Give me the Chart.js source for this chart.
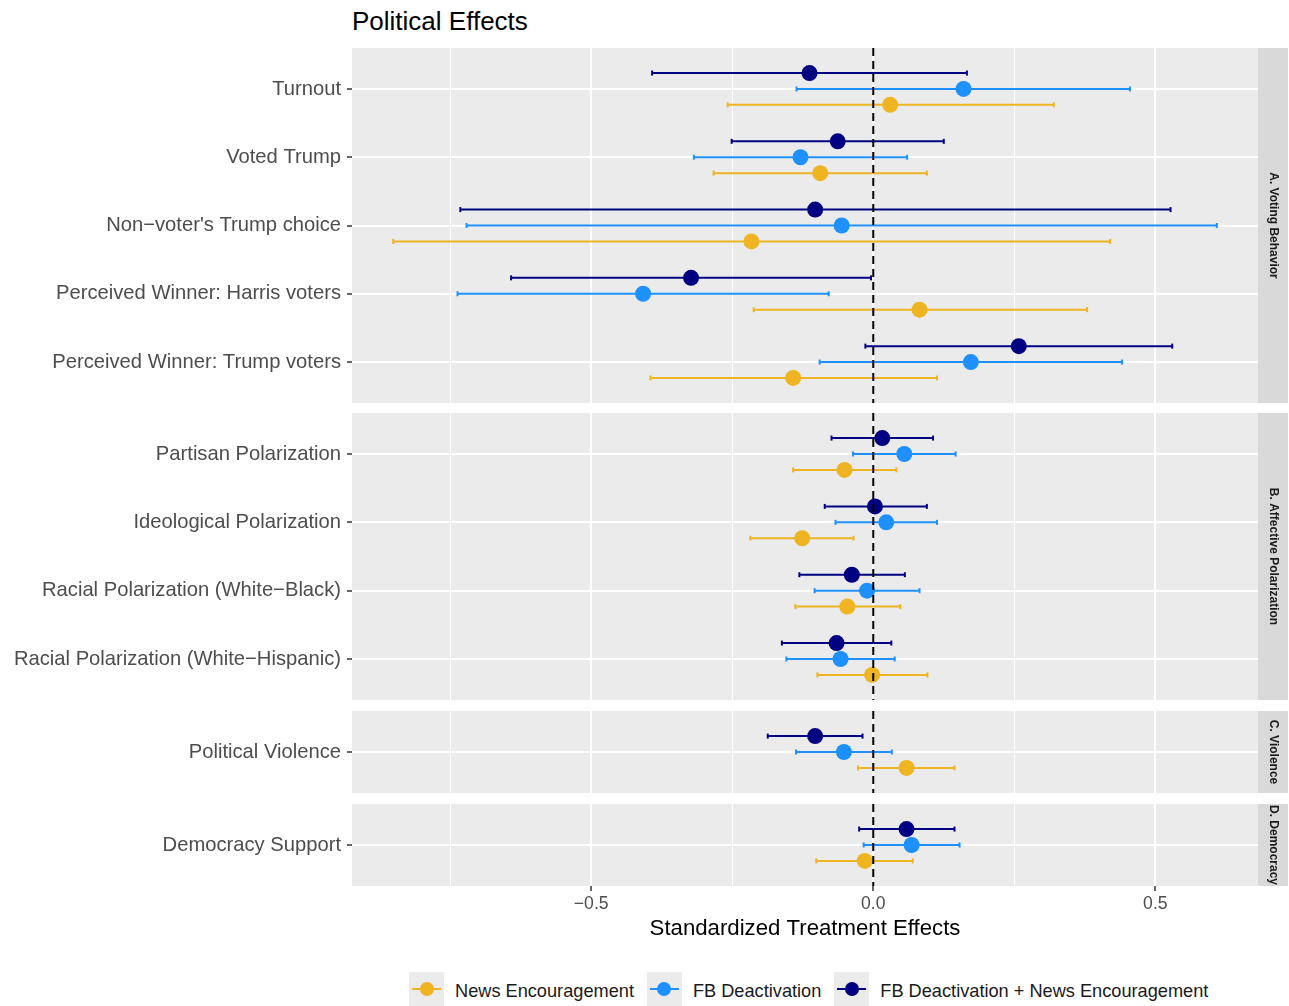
<!DOCTYPE html>
<html>
<head>
<meta charset="utf-8">
<script src="https://cdn.jsdelivr.net/npm/chart.js@4.4.1/dist/chart.umd.min.js"></script>
<style>
  html, body { margin: 0; padding: 0; background: #ffffff; }
  #page { position: relative; width: 1289px; height: 1006px; overflow: hidden;
          font-family: 'Liberation Sans', Arial, Helvetica, sans-serif; }
  .facet { position: absolute; left: 0; }
  .facet canvas { display: block; }
  #title { position: absolute; left: 352px; top: 8px; font-size: 26px; line-height: 26px; color: #000; white-space: nowrap; }
  #legend { position: absolute; left: 409px; top: 972px; display: flex; align-items: center; }
  .item { display: flex; align-items: center; margin-right: 13px; }
  .key { position: relative; width: 35px; height: 34px; background: #EBEBEB; flex: none; }
  .key .ln { position: absolute; left: 3px; right: 3px; top: 16px; height: 2px; }
  .key .dot { position: absolute; left: 10.5px; top: 10px; width: 14px; height: 14px; border-radius: 50%; }
  .lab { position: relative; top: 2px; margin-left: 11px; font-size: 18.2px; color: #1A1A1A; white-space: nowrap; }
</style>
</head>
<body>
<div id="page">
  <div id="title">Political Effects</div>
  <div class="facet" style="top:48px"><canvas id="facet0" width="1289" height="355"></canvas></div>
  <div class="facet" style="top:413px"><canvas id="facet1" width="1289" height="287"></canvas></div>
  <div class="facet" style="top:711px"><canvas id="facet2" width="1289" height="82"></canvas></div>
  <div class="facet" style="top:804px"><canvas id="facet3" width="1289" height="138"></canvas></div>
  <div id="legend"></div>
</div>
<script>
// ---- data -------------------------------------------------------------
const outcomeLabels = [
  'Turnout',
  'Voted Trump',
  'Non\u2212voter\'s Trump choice',
  'Perceived Winner: Harris voters',
  'Perceived Winner: Trump voters',
  'Partisan Polarization',
  'Ideological Polarization',
  'Racial Polarization (White\u2212Black)',
  'Racial Polarization (White\u2212Hispanic)',
  'Political Violence',
  'Democracy Support'
];
const outcomeFacet = [0, 0, 0, 0, 0, 1, 1, 1, 1, 2, 3];
const facetLabels = ['A. Voting Behavior', 'B. Affective Polarization', 'C. Violence', 'D. Democracy'];
const seriesLabels = ['News Encouragement', 'FB Deactivation', 'FB Deactivation + News Encouragement'];

// News Encouragement
const newsEst = [0.030, -0.094, -0.216, 0.082, -0.142, -0.051, -0.126, -0.046, -0.002, 0.059, -0.015];
const newsLo  = [-0.258, -0.283, -0.851, -0.212, -0.395, -0.142, -0.218, -0.138, -0.099, -0.027, -0.101];
const newsHi  = [0.320, 0.095, 0.420, 0.379, 0.113, 0.041, -0.035, 0.048, 0.096, 0.144, 0.070];

// FB Deactivation
const fbEst = [0.160, -0.129, -0.056, -0.408, 0.173, 0.055, 0.023, -0.011, -0.058, -0.052, 0.068];
const fbLo  = [-0.136, -0.318, -0.721, -0.737, -0.095, -0.036, -0.067, -0.104, -0.154, -0.137, -0.017];
const fbHi  = [0.455, 0.060, 0.609, -0.079, 0.441, 0.146, 0.113, 0.082, 0.038, 0.033, 0.153];

// FB Deactivation + News Encouragement
const bothEst = [-0.113, -0.063, -0.103, -0.323, 0.258, 0.016, 0.003, -0.038, -0.065, -0.103, 0.059];
const bothLo  = [-0.392, -0.251, -0.732, -0.642, -0.014, -0.074, -0.086, -0.131, -0.162, -0.187, -0.025];
const bothHi  = [0.166, 0.125, 0.527, -0.004, 0.530, 0.106, 0.095, 0.056, 0.032, -0.019, 0.144];

const xTickValues = [-0.75, -0.5, -0.25, 0, 0.25, 0.5];
const xTitle = 'Standardized Treatment Effects';

// ---- styling ----------------------------------------------------------
const seriesColors = ['#EEB422', '#1E90FF', '#000080'];
const dodge = [0.233, 0, -0.233];          // vertical dodge within a row
const FONT = "'Liberation Sans', Arial, Helvetica, sans-serif";
Chart.defaults.font.family = FONT;

const series = [
  { est: newsEst, lo: newsLo, hi: newsHi },
  { est: fbEst,   lo: fbLo,   hi: fbHi },
  { est: bothEst, lo: bothLo, hi: bothHi }
];

// shared x range: data range plus 5% on each side
const allBounds = series.flatMap(s => s.lo.concat(s.hi));
const dMin = Math.min(...allBounds), dMax = Math.max(...allBounds);
const xMin = dMin - 0.05 * (dMax - dMin);
const xMax = dMax + 0.05 * (dMax - dMin);

const isMajor = v => Math.abs(v * 2 - Math.round(v * 2)) < 1e-9;
const fmt = v => v.toFixed(1).replace('-', '\u2212');

// panel background + facet strip
const facetPlugin = {
  id: 'facetPanel',
  beforeDraw(chart, args, opts) {
    const { ctx, chartArea: a } = chart;
    ctx.save();
    ctx.fillStyle = '#EBEBEB';
    ctx.fillRect(a.left, a.top, a.right - a.left, a.bottom - a.top);
    ctx.restore();
  },
  afterDraw(chart, args, opts) {
    const { ctx, chartArea: a } = chart;
    ctx.save();
    ctx.fillStyle = '#D9D9D9';
    ctx.fillRect(a.right, a.top, 30, a.bottom - a.top);
    ctx.beginPath();
    ctx.rect(a.right, a.top, 30, a.bottom - a.top);
    ctx.clip();
    ctx.translate(a.right + 15, (a.top + a.bottom) / 2);
    ctx.rotate(Math.PI / 2);
    ctx.fillStyle = '#1A1A1A';
    ctx.font = 'bold 12px ' + FONT;
    ctx.textAlign = 'center';
    ctx.textBaseline = 'middle';
    ctx.fillText(opts.label, 0, 0);
    ctx.restore();
  }
};

facetLabels.forEach((facetLabel, f) => {
  const rows = outcomeFacet.map((g, i) => (g === f ? i : -1)).filter(i => i >= 0);
  const n = rows.length;
  const isBottom = f === facetLabels.length - 1;
  const yMin = 0.4, yMax = n + 0.6;

  const datasets = [];
  // zero reference line
  datasets.push({
    type: 'line',
    data: [{ x: 0, y: yMin }, { x: 0, y: yMax }],
    borderColor: '#000000', borderWidth: 2, borderDash: [8, 5],
    pointRadius: 0, order: 0
  });
  // confidence intervals
  series.forEach((s, si) => {
    rows.forEach((i, k) => {
      const y = k + 1 + dodge[si];
      datasets.push({
        type: 'line',
        data: [{ x: s.lo[i], y: y }, { x: s.hi[i], y: y }],
        borderColor: seriesColors[si], borderWidth: 2,
        pointStyle: 'line', pointRotation: 90, pointRadius: 2.5,
        pointBorderWidth: 2, pointBorderColor: seriesColors[si],
        order: 3
      });
    });
  });
  // point estimates
  series.forEach((s, si) => {
    datasets.push({
      type: 'scatter',
      label: seriesLabels[si],
      data: rows.map((i, k) => ({ x: s.est[i], y: k + 1 + dodge[si] })),
      pointRadius: 8, pointBorderWidth: 0,
      pointBackgroundColor: seriesColors[si], backgroundColor: seriesColors[si],
      borderColor: seriesColors[si],
      order: 2
    });
  });

  new Chart(document.getElementById('facet' + f), {
    type: 'scatter',
    data: { datasets },
    options: {
      responsive: false,
      animation: false,
      events: [],
      devicePixelRatio: 1,
      layout: { autoPadding: false, padding: { left: 0, right: 31, top: 0, bottom: 0 } },
      plugins: {
        legend: { display: false },
        tooltip: { enabled: false },
        facetPanel: { label: facetLabel }
      },
      scales: {
        x: {
          type: 'linear', min: xMin, max: xMax,
          afterBuildTicks: s => { s.ticks = xTickValues.map(v => ({ value: v })); },
          afterFit: s => {
            s.height = isBottom ? 56 : 0;
            s.paddingLeft = 0; s.paddingRight = 0;
          },
          border: { display: false },
          grid: {
            color: '#FFFFFF',
            lineWidth: c => (c.tick && !isMajor(c.tick.value) ? 1 : 2),
            drawTicks: isBottom,
            tickLength: 5,
            tickWidth: 1.5,
            tickColor: c => (c.tick && isMajor(c.tick.value) ? '#333333' : 'rgba(0,0,0,0)')
          },
          ticks: {
            display: isBottom, autoSkip: false, maxRotation: 0, minRotation: 0,
            padding: 3, color: '#4D4D4D', font: { size: 17.6 },
            callback: v => (isMajor(v) ? fmt(v) : '')
          },
          title: {
            display: isBottom, text: xTitle, color: '#000000',
            font: { size: 22.2 }, padding: { top: 0, bottom: 0 }
          }
        },
        y: {
          type: 'linear', reverse: true, min: yMin, max: yMax,
          afterBuildTicks: s => { s.ticks = rows.map((_, k) => ({ value: k + 1 })); },
          afterFit: s => {
            s.width = 352;
            s.paddingTop = 0; s.paddingBottom = 0;
          },
          border: { display: false },
          grid: {
            color: '#FFFFFF', lineWidth: 2,
            tickLength: 5, tickWidth: 1.5, tickColor: '#333333'
          },
          ticks: {
            autoSkip: false, padding: 6, color: '#4D4D4D', font: { size: 20.2 },
            callback: v => outcomeLabels[rows[Math.round(v) - 1]]
          }
        }
      }
    },
    plugins: [facetPlugin]
  });
});

// legend
const legend = document.getElementById('legend');
seriesLabels.forEach((label, si) => {
  const item = document.createElement('div');
  item.className = 'item';
  item.innerHTML =
    '<div class="key"><div class="ln" style="background:' + seriesColors[si] + '"></div>' +
    '<div class="dot" style="background:' + seriesColors[si] + '"></div></div>' +
    '<span class="lab"></span>';
  item.querySelector('.lab').textContent = label;
  legend.appendChild(item);
});
</script>
</body>
</html>
